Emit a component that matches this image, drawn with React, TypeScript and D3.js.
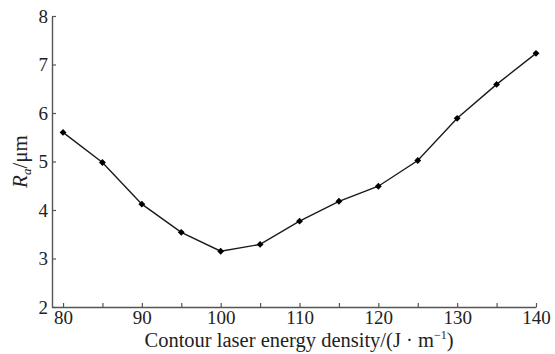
import { useEffect, useRef } from 'react';
import * as d3 from 'd3';

const energyDensity = [80, 85, 90, 95, 100, 105, 110, 115, 120, 125, 130, 135, 140];
const roughness = [5.6, 4.98, 4.12, 3.54, 3.15, 3.29, 3.77, 4.18, 4.49, 5.02, 5.89, 6.59, 7.23];
const xTicks = [80, 90, 100, 110, 120, 130, 140];
const xMinorTicks = [85, 95, 105, 115, 125, 135];
const yTicks = [2, 3, 4, 5, 6, 7, 8];

export default function App() {
  const svgRef = useRef<SVGSVGElement>(null);

  useEffect(() => {
    if (!svgRef.current) return;
    const svg = d3.select(svgRef.current);
    svg.selectAll('*').remove();

    const width = 555;
    const height = 354;
    const left = 52;
    const right = 536;
    const top = 16;
    const bottom = 307;
    const font = 'Liberation Serif';

    svg.attr('width', width).attr('height', height);

    const xScale = d3.scaleLinear().domain([78.6, 140]).range([left, right]);
    const yScale = d3.scaleLinear().domain([2, 8]).range([bottom, top]);

    // x axis
    const xAxis = svg.append('g')
      .attr('transform', `translate(0,${bottom})`)
      .call(d3.axisBottom(xScale)
        .tickValues([...xTicks, ...xMinorTicks])
        .tickSizeInner(-4)
        .tickSizeOuter(0)
        .tickFormat((d: any) => xTicks.includes(d) ? String(d) : ''));
    xAxis.attr('font-family', font).attr('font-size', 19);
    xAxis.select('.domain').attr('stroke', '#555').attr('stroke-width', 1.4);
    xAxis.selectAll('.tick line').attr('stroke', '#555').attr('stroke-width', 1.2);
    xAxis.selectAll('.tick text')
      .attr('y', 4)
      .attr('dy', '0.71em')
      .attr('fill', '#222');

    // y axis
    const yAxis = svg.append('g')
      .attr('transform', `translate(${left},0)`)
      .call(d3.axisLeft(yScale)
        .tickValues(yTicks)
        .tickSizeInner(-4)
        .tickSizeOuter(0)
        .tickFormat(d3.format('d')));
    yAxis.attr('font-family', font).attr('font-size', 19);
    yAxis.select('.domain').attr('stroke', '#555').attr('stroke-width', 1.4);
    yAxis.selectAll('.tick line').attr('stroke', '#555').attr('stroke-width', 1.2);
    yAxis.selectAll('.tick text')
      .attr('x', -4)
      .attr('fill', '#222');

    // line
    const pts = energyDensity.map((x, i) => ({ x, y: roughness[i] }));
    const line = d3.line<{ x: number; y: number }>()
      .x(d => xScale(d.x))
      .y(d => yScale(d.y));
    svg.append('path')
      .datum(pts)
      .attr('fill', 'none')
      .attr('stroke', '#1a1a1a')
      .attr('stroke-width', 1.4)
      .attr('d', line);

    // diamond markers
    const diamond = d3.symbol().type(d3.symbolDiamond2).size(30);
    svg.selectAll('.marker')
      .data(pts)
      .enter().append('path')
      .attr('class', 'marker')
      .attr('transform', d => `translate(${xScale(d.x)},${yScale(d.y)})`)
      .attr('d', diamond)
      .attr('fill', '#000');

    // x label
    const xl = svg.append('text')
      .attr('x', 299)
      .attr('y', 347)
      .attr('text-anchor', 'middle')
      .attr('font-family', font)
      .attr('font-size', 20.5)
      .attr('fill', '#222');
    xl.append('tspan').text('Contour laser energy density/(J · m');
    xl.append('tspan').attr('dy', -8).attr('font-size', 12).text('−1');
    xl.append('tspan').attr('dy', 8).text(')');

    // y label
    const yl = svg.append('text')
      .attr('transform', `translate(27,${(top + bottom) / 2}) rotate(-90)`)
      .attr('text-anchor', 'middle')
      .attr('font-family', font)
      .attr('font-size', 21)
      .attr('fill', '#222');
    yl.append('tspan').attr('font-style', 'italic').text('R');
    yl.append('tspan').attr('dy', 4).attr('font-size', 13).attr('font-style', 'italic').text('a');
    yl.append('tspan').attr('dy', -4).text('/μm');
  }, []);

  return (
    <div style={{ position: 'absolute', left: 0, top: 0 }}>
      <svg ref={svgRef}></svg>
    </div>
  );
}
